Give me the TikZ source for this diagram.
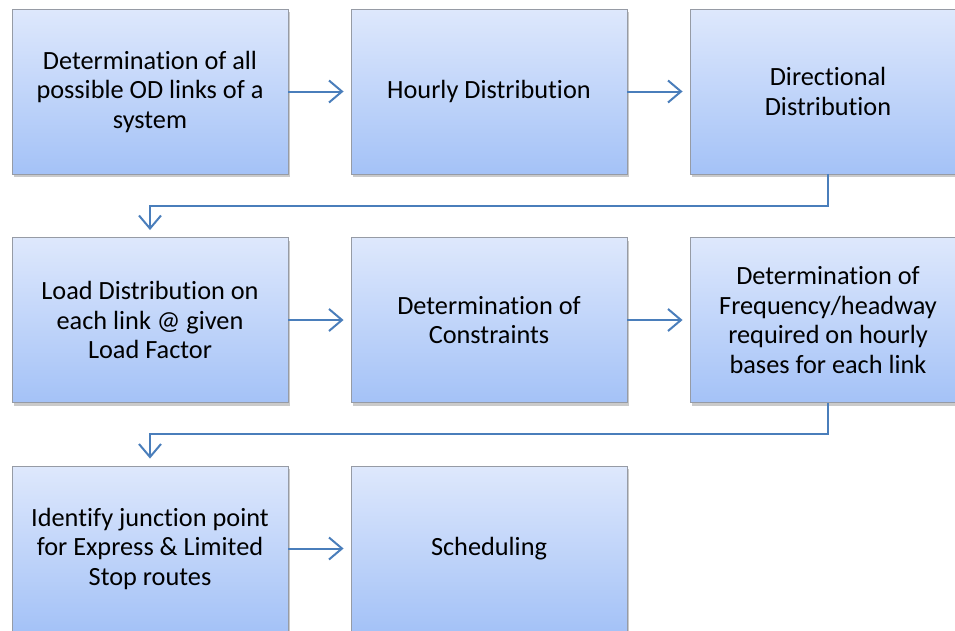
\documentclass[tikz,border=0pt]{standalone}
\usepackage{fontspec}
\setmainfont{Carlito}[Ligatures=NoCommon]
\usetikzlibrary{arrows.meta,shadows,calc}
\definecolor{boxtop}{RGB}{222,232,252}
\definecolor{boxbot}{RGB}{164,194,247}
\definecolor{boxedge}{RGB}{150,155,165}
\definecolor{linkblue}{RGB}{74,126,187}
\tikzset{
  stepbox/.style={rectangle, draw=boxedge, line width=0.9pt, top color=boxtop, bottom color=boxbot,
    minimum width=276pt, minimum height=165pt, inner sep=0pt, align=center,
    font=\fontsize{26.3}{29.5}\selectfont,
    drop shadow={shadow xshift=2pt, shadow yshift=-3pt, opacity=0.35, fill=black!60}},
  link/.style={draw=linkblue, line width=2pt, shorten >=7pt,
    -{Straight Barb[length=13pt,width=22pt,line width=2pt]}}
}
\begin{document}
\begin{tikzpicture}[x=1pt,y=-1pt]
\useasboundingbox (0,0) rectangle (955,630);
\node[stepbox] (b1) at (150,91.5) {Determination of all\\possible OD links of a\\system};
\node[stepbox] (b2) at (489,91.5) {Hourly Distribution};
\node[stepbox] (b3) at (828,91.5) {Directional\\Distribution};
\node[stepbox] (b4) at (150,320) {Load Distribution on\\each link @ given\\Load Factor};
\node[stepbox] (b5) at (489,320) {Determination of\\Constraints};
\node[stepbox] (b6) at (828,320) {Determination of\\Frequency/headway\\required on hourly\\bases for each link};
\node[stepbox] (b7) at (150,548.5) {Identify junction point\\for Express \& Limited\\Stop routes};
\node[stepbox] (b8) at (489,548.5) {Scheduling};
\draw[link] (b1) -- (b2);
\draw[link] (b2) -- (b3);
\draw[link] (b4) -- (b5);
\draw[link] (b5) -- (b6);
\draw[link] (b7) -- (b8);
\coordinate (m1) at ($(b3.south)!0.5!(b4.north)$);
\coordinate (m2) at ($(b6.south)!0.5!(b7.north)$);
\draw[link] (b3.south) |- (m1) -| (b4.north);
\draw[link] (b6.south) |- (m2) -| (b7.north);
\end{tikzpicture}
\end{document}
